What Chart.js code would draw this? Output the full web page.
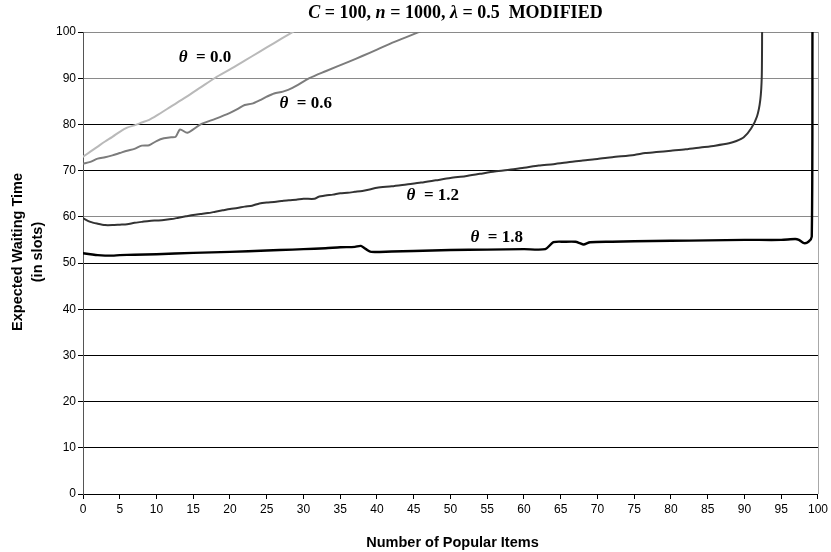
<!DOCTYPE html>
<html>
<head>
<meta charset="utf-8">
<script src="https://cdn.jsdelivr.net/npm/chart.js@4.4.1/dist/chart.umd.min.js"></script>
<style>
  html, body { margin: 0; padding: 0; background: #fff; }
  #wrap { width: 831px; height: 552px; }
</style>
</head>
<body>
<div id="wrap"><canvas id="c" width="831" height="552"></canvas></div>
<script>
// Expected waiting time vs. number of popular items, one curve per skew θ
const theta00X = [0, 1, 2, 3, 4, 5, 6, 7, 8, 9, 10, 12, 14, 16, 18, 20, 22, 24, 26, 28, 30];
const theta00Y = [73.0, 74.1, 75.2, 76.3, 77.3, 78.4, 79.3, 79.8, 80.4, 81.0, 81.9, 83.9, 85.9, 88.0, 90.1, 91.9, 93.8, 95.7, 97.6, 99.5, 101.4];

const theta06X = [0, 1, 2, 3, 4, 5, 6, 7, 8, 9, 10, 11, 12, 12.6, 13.2, 14.2, 16, 18, 20, 21, 22, 23, 24, 25, 26, 27.2, 28.5, 30.8, 33, 36.2, 38, 40, 42.1, 44, 46];
const theta06Y = [71.5, 71.9, 72.6, 72.9, 73.3, 73.8, 74.3, 74.7, 75.4, 75.5, 76.4, 77.0, 77.2, 77.3, 78.9, 78.2, 80.0, 81.2, 82.5, 83.3, 84.2, 84.5, 85.2, 86.0, 86.7, 87.1, 87.9, 90.0, 91.5, 93.6, 94.8, 96.2, 97.7, 98.9, 100.2];

const theta12X = [0, 1, 2, 3, 4, 5, 6, 7, 8, 9, 10, 11, 12, 13, 14, 15, 16, 17, 18, 19, 20, 21, 22, 23, 24, 25, 26, 27, 28, 29, 30, 31.5, 32, 33, 34, 35, 36, 37, 38, 39, 40, 42, 44, 46, 48, 50, 52, 54, 56, 58, 60, 62, 64, 66, 68, 70, 72, 75, 76.5, 78, 80, 82, 84, 86, 87.9, 88.9, 89.9, 90.9, 91.7, 92.15, 92.35, 92.4];
const theta12Y = [59.7, 58.9, 58.5, 58.2, 58.2, 58.3, 58.4, 58.7, 58.9, 59.1, 59.2, 59.3, 59.5, 59.8, 60.1, 60.4, 60.6, 60.8, 61.1, 61.4, 61.7, 61.9, 62.2, 62.4, 62.9, 63.1, 63.2, 63.4, 63.6, 63.7, 63.9, 63.9, 64.3, 64.6, 64.8, 65.1, 65.2, 65.4, 65.6, 65.9, 66.3, 66.6, 67.0, 67.4, 67.9, 68.4, 68.8, 69.3, 69.8, 70.2, 70.6, 71.1, 71.4, 71.8, 72.2, 72.5, 72.9, 73.4, 73.8, 74.0, 74.3, 74.6, 75.0, 75.4, 75.9, 76.4, 77.2, 79.1, 81.7, 85.3, 90.3, 101.0];

const theta18X = [0, 1, 2, 3, 4, 5, 7, 10, 15, 20, 25, 28.5, 30, 33, 35, 37, 37.8, 38.5, 39.2, 42, 45, 50, 55, 60, 62.9, 64.0, 65.5, 67, 67.6, 68.1, 69.0, 72, 75, 80, 85, 90, 95, 96.9, 97.4, 98.1, 98.7, 99.15, 99.25];
const theta18Y = [52.1, 51.9, 51.7, 51.6, 51.6, 51.7, 51.8, 51.9, 52.2, 52.4, 52.7, 52.9, 53.0, 53.2, 53.4, 53.5, 53.7, 53.0, 52.4, 52.5, 52.6, 52.8, 52.9, 53.0, 53.0, 54.5, 54.6, 54.6, 54.3, 54.0, 54.5, 54.6, 54.7, 54.8, 54.9, 55.0, 55.0, 55.2, 55.0, 54.3, 54.6, 55.7, 101.0];

const seriesNames = ['θ = 0.0', 'θ = 0.6', 'θ = 1.2', 'θ = 1.8'];
const seriesColors = ['#b9b9b9', '#7c7c7c', '#333333', '#000000'];

// Curve captions: theta value text and its centre in data space
const captionValues = ['0.0', '0.6', '1.2', '1.8'];
const captionX = [16.6, 30.3, 47.6, 56.3];
const captionY = [94.4, 84.6, 64.5, 55.6];

const xTicksMin = 0, xTicksMax = 100, xStep = 5;
const yTicksMin = 0, yTicksMax = 100, yStep = 10;

const titleParts = [['C', true], [' = 100, ', false], ['n', true], [' = 1000, ', false], ['λ', true], [' = 0.5  MODIFIED', false]];
const xTitle = 'Number of Popular Items';
const yTitle = ['Expected Waiting Time', '(in slots)'];

function pts(xs, ys) { return xs.map((x, i) => ({ x: x, y: ys[i] })); }

const SERIF = '"Liberation Serif", "Times New Roman", serif';
const SANS = '"Liberation Sans", Arial, sans-serif';

// Draws a run of mixed italic / upright bold serif text centred on (cx, cy)
function drawRich(ctx, parts, cx, cy, size) {
  const fontOf = it => (it ? 'italic ' : '') + 'bold ' + size + 'px ' + SERIF;
  let total = 0;
  const widths = parts.map(p => { ctx.font = fontOf(p[1]); const w = ctx.measureText(p[0]).width; total += w; return w; });
  let x = cx - total / 2;
  ctx.textBaseline = 'middle';
  ctx.textAlign = 'left';
  ctx.fillStyle = '#000';
  parts.forEach((p, i) => { ctx.font = fontOf(p[1]); ctx.fillText(p[0], x, cy); x += widths[i]; });
}

const annotate = {
  id: 'annotate',
  afterDatasetsDraw(chart) {
    const { ctx, chartArea: a, scales } = chart;
    ctx.save();
    // right frame edge of the plot
    ctx.strokeStyle = '#a8a8a8';
    ctx.lineWidth = 1;
    ctx.beginPath();
    ctx.moveTo(Math.round(a.right) + 0.5, a.top);
    ctx.lineTo(Math.round(a.right) + 0.5, a.bottom);
    ctx.stroke();

    // curve captions
    captionValues.forEach((v, i) => {
      drawRich(ctx, [['θ', true], ['  = ' + v, false]],
        scales.x.getPixelForValue(captionX[i]), scales.y.getPixelForValue(captionY[i]), 17);
    });

    // chart title
    drawRich(ctx, titleParts, (a.left + a.right) / 2 + 5, 13, 18);

    // axis titles
    ctx.fillStyle = '#000';
    ctx.font = 'bold 14.5px ' + SANS;
    ctx.textAlign = 'center';
    ctx.textBaseline = 'middle';
    ctx.fillText(xTitle, (a.left + a.right) / 2 + 2, 543);
    ctx.save();
    ctx.translate(18, 252);
    ctx.rotate(-Math.PI / 2);
    ctx.fillText(yTitle[0], 0, 0);
    ctx.restore();
    ctx.save();
    ctx.translate(38, 252);
    ctx.rotate(-Math.PI / 2);
    ctx.fillText(yTitle[1], 0, 0);
    ctx.restore();
    ctx.restore();
  }
};

const gridGrey = [100, 90, 60];

new Chart(document.getElementById('c'), {
  type: 'line',
  data: {
    datasets: [
      { label: seriesNames[0], data: pts(theta00X, theta00Y), borderColor: seriesColors[0], borderWidth: 2 },
      { label: seriesNames[1], data: pts(theta06X, theta06Y), borderColor: seriesColors[1], borderWidth: 2 },
      { label: seriesNames[2], data: pts(theta12X, theta12Y), borderColor: seriesColors[2], borderWidth: 2 },
      { label: seriesNames[3], data: pts(theta18X, theta18Y), borderColor: seriesColors[3], borderWidth: 2.4 }
    ]
  },
  options: {
    responsive: false,
    animation: false,
    devicePixelRatio: 1,
    parsing: false,
    elements: { point: { radius: 0 }, line: { tension: 0.25, fill: false, borderCapStyle: 'round', borderJoinStyle: 'round' } },
    layout: { padding: { top: 32, right: 11, left: 0, bottom: 0 } },
    plugins: { legend: { display: false }, title: { display: false }, tooltip: { enabled: false } },
    scales: {
      x: {
        type: 'linear',
        min: xTicksMin, max: xTicksMax,
        afterFit: s => { s.height = 58; },
        ticks: { stepSize: xStep, color: '#000', padding: 3, maxRotation: 0, autoSkip: false, font: { family: SANS, size: 12 } },
        grid: { display: true, drawOnChartArea: false, drawTicks: true, tickLength: 5, color: '#000' },
        border: { display: true, color: '#000', width: 1 }
      },
      y: {
        min: yTicksMin, max: yTicksMax,
        afterFit: s => { s.width = 83; },
        ticks: { stepSize: yStep, color: '#000', padding: 2, font: { family: SANS, size: 12 } },
        grid: {
          display: true, drawTicks: true, tickLength: 5,
          color: c => (gridGrey.includes(c.tick && c.tick.value) ? '#8a8a8a' : '#000'),
          tickColor: '#000', lineWidth: 1
        },
        border: { display: true, color: '#555', width: 1 }
      }
    }
  },
  plugins: [annotate]
});
</script>
</body>
</html>
